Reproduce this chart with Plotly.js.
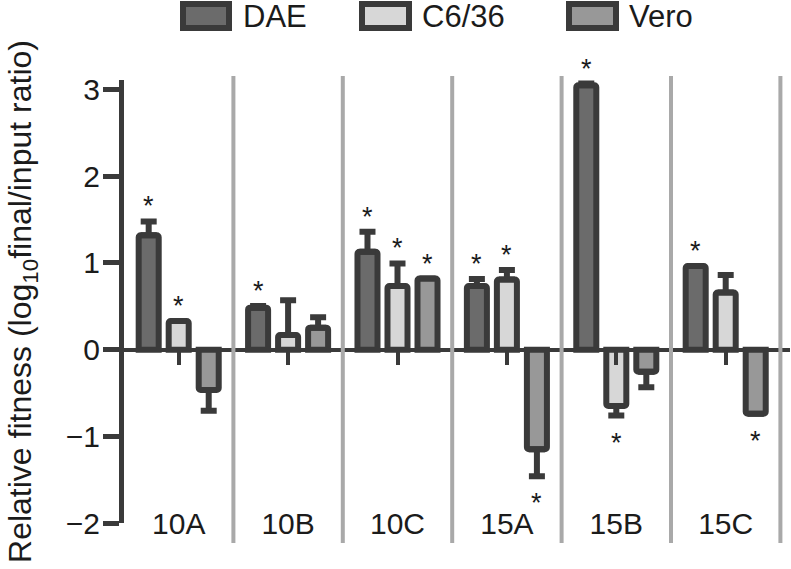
<!DOCTYPE html>
<html>
<head>
<meta charset="utf-8">
<script src="https://cdn.plot.ly/plotly-3.0.1.min.js"></script>
<style>
  html, body { margin: 0; padding: 0; background: #ffffff; }
  #chart { width: 791px; height: 569px; }
</style>
</head>
<body>
<div id="chart"></div>
<script>
// ---------------- data ----------------
const categories = ['10A', '10B', '10C', '15A', '15B', '15C'];
const seriesNames = ['DAE', 'C6/36', 'Vero'];

const daeValues  = [1.32, 0.485, 1.13, 0.735, 3.05, 0.965];
const daeErrors  = [0.16, 0.02, 0.23, 0.08, 0.02, 0.0];
const daeStars   = [true, true, true, true, true, true];

const c636Values = [0.33, 0.17, 0.735, 0.81, -0.65, 0.66];
const c636Errors = [0.0, 0.40, 0.26, 0.11, 0.11, 0.20];
const c636Stars  = [true, false, true, true, true, false];

const veroValues = [-0.465, 0.254, 0.82, -1.15, -0.254, -0.74];
const veroErrors = [0.24, 0.12, 0.0, 0.31, 0.18, 0.0];
const veroStars  = [false, false, true, true, false, true];

const yTickVals = [-2, -1, 0, 1, 2, 3];

// ---------------- styling ----------------
const W = 791, H = 569;
const M = { l: 124, r: 1, t: 80, b: 46 };
const PW = W - M.l - M.r, PH = H - M.t - M.b;
const pxPerCat = 109.4, pxPerUnit = 86.67;
const xRange = [-0.5, -0.5 + PW / pxPerCat];
const yRange = [-2, -2 + PH / pxPerUnit];

const FONT = '"Liberation Sans", Arial, Helvetica, sans-serif';
const INK = '#3a3a3a';
const TEXT = '#1b1b1b';
const fills = ['#6b6b6b', '#d7d7d7', '#989898'];
const BARGAP = 0.177, BARGROUPGAP = 0.333;

const allValues = [daeValues, c636Values, veroValues];
const allErrors = [daeErrors, c636Errors, veroErrors];
const allStars  = [daeStars, c636Stars, veroStars];

const px2xp = px => (px - M.l) / PW;
const px2yp = py => (H - M.b - py) / PH;

const traces = [];
seriesNames.forEach((name, k) => {
  const vals = allValues[k], errs = allErrors[k];
  traces.push({
    type: 'bar',
    name: name,
    x: categories,
    y: vals,
    marker: { color: fills[k], line: { color: INK, width: 6 }, cornerradius: 2 },
    error_y: {
      type: 'data', symmetric: false,
      array: vals.map((v, i) => v >= 0 ? errs[i] : 0),
      arrayminus: vals.map((v, i) => v < 0 ? errs[i] : 0),
      color: INK, thickness: 6, width: 8
    },
    showlegend: false,
    hoverinfo: 'skip'
  });
});
// invisible carrier for the zero-level axis with its tick stubs
traces.push({
  type: 'scatter', x: categories, y: categories.map(() => 0),
  xaxis: 'x2', yaxis: 'y', mode: 'markers', marker: { opacity: 0 },
  showlegend: false, hoverinfo: 'skip'
});

// asterisks
const barStep = (1 - BARGAP) / seriesNames.length;
const annotations = [];
seriesNames.forEach((name, k) => {
  allStars[k].forEach((s, i) => {
    if (!s) return;
    const v = allValues[k][i], e = allErrors[k][i];
    const pos = v >= 0;
    annotations.push({
      xref: 'x', yref: 'y',
      x: i + (k - 1) * barStep,
      y: pos ? v + e : v - e,
      text: '*', showarrow: false,
      font: { family: FONT, size: 27, color: TEXT },
      xanchor: 'center', yanchor: 'middle',
      yshift: pos ? 15 : -27
    });
  });
});

// legend (boxes + labels)
const legendBoxes = [[183, 229], [362, 409], [569, 616]];
const legendText = [241, 420, 627];
const shapes = [];
seriesNames.forEach((name, k) => {
  shapes.push({
    type: 'rect', xref: 'paper', yref: 'paper',
    x0: px2xp(legendBoxes[k][0]), x1: px2xp(legendBoxes[k][1]),
    y0: px2yp(28), y1: px2yp(4),
    fillcolor: fills[k], line: { color: INK, width: 6 }
  });
  annotations.push({
    xref: 'paper', yref: 'paper',
    x: px2xp(legendText[k]), y: px2yp(17),
    text: name, showarrow: false,
    font: { family: FONT, size: 31, color: TEXT },
    xanchor: 'left', yanchor: 'middle'
  });
});

// grey separators between groups
for (let i = 0; i < categories.length; i++) {
  shapes.push({
    type: 'line', xref: 'x', yref: 'paper',
    x0: i + 0.5, x1: i + 0.5,
    y0: px2yp(76), y1: px2yp(543),
    line: { color: '#a9a9a9', width: 4 },
    layer: 'above'
  });
}

const zeroPos = (0 - yRange[0]) / (yRange[1] - yRange[0]);

const layout = {
  width: W, height: H,
  margin: M,
  paper_bgcolor: '#ffffff', plot_bgcolor: '#ffffff',
  font: { family: FONT, size: 30, color: TEXT },
  barmode: 'group', bargap: BARGAP, bargroupgap: BARGROUPGAP,
  showlegend: false,
  xaxis: {
    type: 'category', range: xRange, fixedrange: true,
    showline: false, showgrid: false, zeroline: false,
    ticks: '', tickfont: { family: FONT, size: 30, color: TEXT },
    ticklabelstandoff: -20
  },
  xaxis2: {
    type: 'category', range: xRange, overlaying: 'x',
    anchor: 'free', position: zeroPos, side: 'bottom',
    showline: true, linecolor: INK, linewidth: 4,
    showgrid: false, zeroline: false,
    ticks: 'outside', ticklen: 13, tickwidth: 4, tickcolor: INK,
    showticklabels: false
  },
  yaxis: {
    range: yRange, fixedrange: true,
    showline: true, linecolor: INK, linewidth: 5,
    showgrid: false, zeroline: false,
    ticks: 'outside', ticklen: 16, tickwidth: 5, tickcolor: INK,
    tickvals: yTickVals,
    tickfont: { family: FONT, size: 30, color: TEXT },
    ticklabelstandoff: -3,
    title: {
      text: 'Relative fitness (log<sub>10</sub>final/input ratio)',
      font: { family: FONT, size: 32, color: TEXT },
      standoff: 26
    }
  },
  shapes: shapes,
  annotations: annotations
};

Plotly.newPlot('chart', traces, layout, { displayModeBar: false, staticPlot: true });
</script>
</body>
</html>
